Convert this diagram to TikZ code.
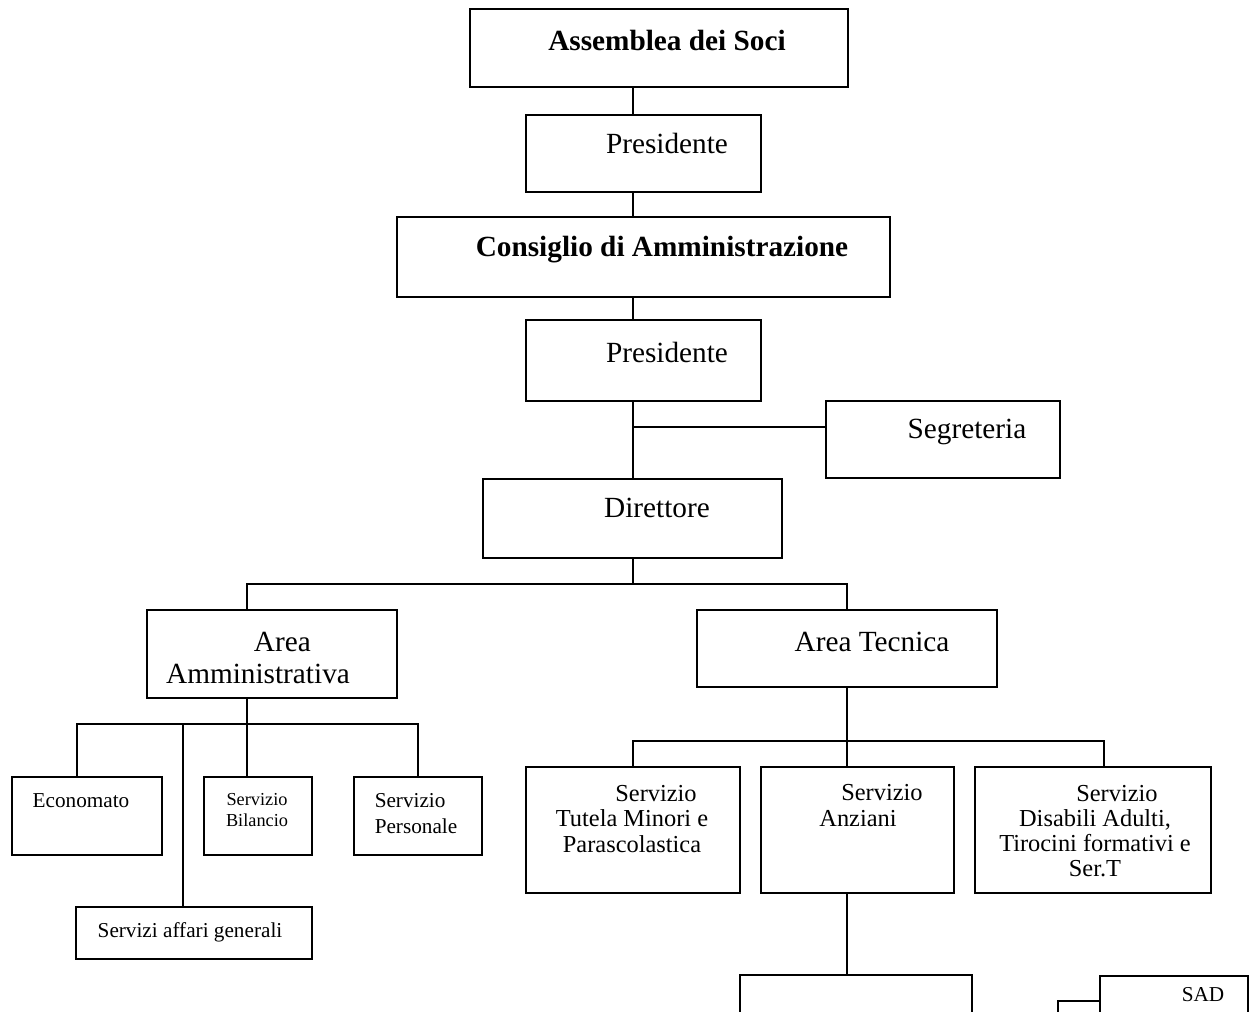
\documentclass[tikz,border=0pt]{standalone}
\usepackage{fontspec}
\setmainfont{Liberation Serif}
\usepackage{tikz}
\usetikzlibrary{positioning,calc}

\begin{document}
\begin{tikzpicture}[x=0.41pt,y=-0.41pt,line width=0.8pt,
  bx/.style 2 args={draw,line width=0.8pt,inner sep=0pt,minimum width=#1*0.41pt,minimum height=#2*0.41pt},
  lbl/.style={inner sep=0pt,font=\fontsize{12}{13}\selectfont},
  lbs/.style={inner sep=0pt,align=center,font=\fontsize{10}{10.3}\selectfont},
  lbx/.style={inner sep=0pt,font=\fontsize{8.7}{10.3}\selectfont}]
\path[use as bounding box,clip] (0,0) rectangle (1258,1011);

% vertice
\node[bx={378}{78}] (soci) at (659,48) {};
\node[lbl,font=\fontsize{12}{13}\selectfont\bfseries] (soci-t) at (667,40) {Assemblea dei Soci};
\node[bx={235}{77}] (pres) at (643.5,153.5) {};
\node[lbl] (pres-t) at (667,143) {Presidente};
\node[bx={493}{80}] (cda) at (643.5,257) {};
\node[lbl,font=\fontsize{12}{13}\selectfont\bfseries] (cda-t) at (662,250) {Consiglio di Amministrazione};
\node[bx={235}{81}] (presb) at (643.5,360.5) {};
\node[lbl] (presb-t) at (667,352) {Presidente};
\node[bx={234}{77}] (segr) at (943,439.5) {};
\node[lbl] (segr-t) at (967,432) {Segreteria};
\node[bx={299}{79}] (dir) at (632.5,518.5) {};
\node[lbl] (dir-t) at (657,508) {Direttore};

% aree
\node[bx={250}{88}] (aamm) at (272,654) {};
\node[lbl,align=center] (aamm-t) at (258,658) {\hspace*{20pt}Area\\Amministrativa};
\node[bx={300}{77}] (atec) at (847,648.5) {};
\node[lbl] (atec-t) at (872,642) {Area Tecnica};

% area amministrativa
\node[bx={150}{78}] (econ) at (87,816) {};
\node[lbx] (econ-t) at (81,801) {Economato};
\node[bx={108}{78}] (bil) at (258,816) {};
\node[lbx,align=center,font=\fontsize{7.5}{8.6}\selectfont] (bil-t) at (257,810) {Servizio\\Bilancio};
\node[bx={128}{78}] (pers) at (418,816) {};
\node[lbx,align=left] (pers-t) at (416,813.5) {Servizio\\Personale};
\node[bx={236}{52}] (aff) at (194,933) {};
\node[lbx] (aff-t) at (190,932) {Servizi affari generali};

% area tecnica
\node[bx={214}{126}] (tut) at (633,830) {};
\node[lbs] (tut-t) at (632,819) {\hspace*{19.7pt}Servizio\\Tutela Minori e\\Parascolastica};
\node[bx={193}{126}] (anz) at (857.5,830) {};
\node[lbs,align=left] (anz-t) at (871,805.5) {\hspace*{9pt}Servizio\\Anziani};
\node[bx={236}{126}] (dis) at (1093,830) {};
\node[lbs] (dis-t) at (1095,831) {\hspace*{18pt}Servizio\\Disabili Adulti,\\Tirocini formativi e\\Ser.T};
\node[bx={232}{100}] (sub) at (856,1025) {};
\node[bx={148}{100}] (sad) at (1174,1026) {};
\node[lbx] (sad-t) at (1203,995) {SAD};

% collegamenti
\coordinate (sp) at (633,0);
\coordinate (sj) at (633,427);
\coordinate (dj) at (633,584);
\coordinate (aj) at (247,724);
\coordinate (xa) at (77,0);
\coordinate (ag) at (183,724);
\coordinate (tj) at (847,741);
\coordinate (tr) at (1104,741);
\coordinate (sk) at (1058,1001);
\coordinate (skb) at (1058,1040);
\draw (soci.south -| sp) -- (pres.north -| sp);
\draw (pres.south -| sp) -- (cda.north -| sp);
\draw (cda.south -| sp) -- (presb.north -| sp);
\draw (presb.south -| sp) -- (dir.north -| sp);
\draw (sj) -- (sj -| segr.west);
\draw (dir.south -| sp) -- (dj);
\draw (aamm.north -| aj) |- (dj) -| (atec.north -| tj);
\draw (aamm.south -| aj) -- (aj);
\draw (econ.north -| xa) |- (pers.north |- aj) -- (pers.north);
\draw (bil.north -| aj) -- (aj);
\draw (ag) -- (aff.north -| ag);
\draw (atec.south -| tj) -- (tj);
\draw (tut.north) |- (tr) -- (tr |- dis.north);
\draw (anz.north -| tj) -- (tj);
\draw (anz.south -| tj) -- (sub.north -| tj);
\draw (sad.west |- sk) -- (sk) -- (skb);
\end{tikzpicture}
\end{document}
